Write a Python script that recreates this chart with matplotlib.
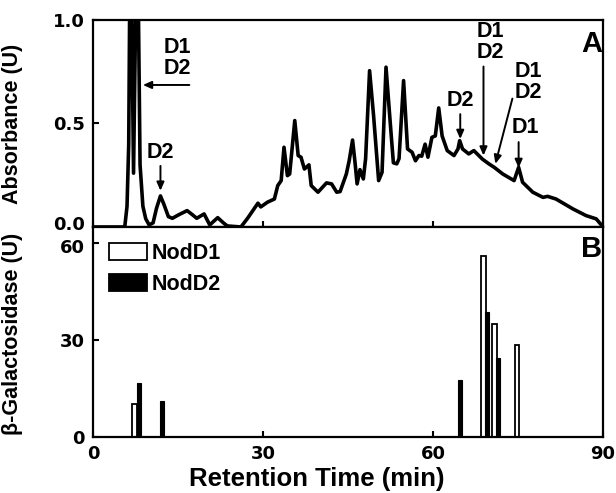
import matplotlib
matplotlib.use("Agg")
import matplotlib.pyplot as plt
from matplotlib.patches import Patch
from matplotlib.transforms import ScaledTranslation

# ---------------- data ----------------
time_min = [0, 5.6, 6.0, 6.3, 6.6, 7.15, 7.8, 8.3, 8.8, 9.3, 9.9, 10.6, 11.2, 11.9,
            12.5, 13.3, 14.0, 15.2, 16.6, 17.5, 18.3, 19.6, 20.6, 22.0, 23.0, 23.7,
            26.1, 27.3, 29.1, 29.6, 30.8, 32.0, 32.6, 33.2, 33.7, 34.3, 34.7, 35.6,
            36.2, 36.7, 37.3, 38.1, 38.5, 39.7, 41.2, 42.1, 43.0, 43.6, 44.7, 45.2,
            45.8, 46.2, 46.6, 47.1, 47.7, 48.1, 48.8, 49.5, 50.4, 51.0, 51.7, 52.4,
            53.0, 53.6, 54.0, 54.8, 55.5, 56.3, 56.9, 57.5, 58.0, 58.6, 59.1, 59.8,
            60.4, 61.0, 61.6, 62.5, 63.7, 64.4, 64.7, 65.2, 66.3, 67.2, 68.7, 69.9,
            70.8, 72.3, 74.3, 75.1, 75.8, 77.6, 79.4, 80.2, 81.7, 84.7, 87.0, 88.8, 90.0]
absorbance = [0.0, 0.0, 0.1, 0.4, 1.6, 0.26, 1.6, 0.3, 0.1, 0.04, 0.01, 0.02, 0.09, 0.15,
              0.11, 0.05, 0.042, 0.06, 0.079, 0.06, 0.042, 0.063, 0.01, 0.045, 0.02, 0.005,
              0.0, 0.043, 0.115, 0.097, 0.12, 0.135, 0.2, 0.224, 0.385, 0.248, 0.256, 0.514,
              0.345, 0.337, 0.28, 0.30, 0.2, 0.168, 0.213, 0.208, 0.168, 0.171, 0.256, 0.32,
              0.42, 0.32, 0.208, 0.277, 0.232, 0.33, 0.755, 0.54, 0.224, 0.264, 0.772, 0.52,
              0.31, 0.305, 0.33, 0.707, 0.377, 0.361, 0.32, 0.345, 0.342, 0.40, 0.337, 0.433,
              0.44, 0.575, 0.44, 0.369, 0.345, 0.377, 0.417, 0.377, 0.353, 0.369, 0.328, 0.304,
              0.288, 0.256, 0.224, 0.288, 0.216, 0.168, 0.143, 0.148, 0.135, 0.087, 0.055, 0.039, 0.0]

nodd1_time = [7.3, 68.9, 70.8, 74.8]
nodd1_value = [10, 56, 35, 28.5]
nodd2_time = [8.1, 12.1, 64.8, 69.6, 71.5]
nodd2_value = [16.5, 11, 17.5, 38.5, 24.5]

x_ticks = [0, 30, 60, 90]
abs_ticks = [0.0, 0.5, 1.0]
gal_ticks = [0, 30, 60]

# ---------------- figure ----------------
fig = plt.figure(figsize=(6.16, 4.93), dpi=100)
axA = fig.add_axes([0.151, 0.5396, 0.828, 0.4199])
axB = fig.add_axes([0.151, 0.1142, 0.828, 0.4254])

LAB = dict(family="Liberation Sans", weight="bold")
TICK = dict(family="DejaVu Sans", weight="bold", size=13)

for ax in (axA, axB):
    for s in ax.spines.values():
        s.set_linewidth(1.6)
    ax.set_xlim(0, 90)
    ax.tick_params(direction="in", length=4, width=1.5, top=False, right=False, pad=6)

# Panel A
axA.plot(time_min, absorbance, color="black", lw=2.6, solid_joinstyle="round")
axA.set_ylim(0, 1.0)
axA.set_xticks(x_ticks)
axA.set_xticklabels([])
axA.set_yticks(abs_ticks)
axA.set_yticklabels([f"{v:.1f}" for v in abs_ticks], **TICK)
axA.set_ylabel("Absorbance (U)", size=15.5, **LAB)
axA.yaxis.set_label_coords(-0.137, 0.5)
axA.text(88.0, 0.885, "A", ha="center", va="center", size=21, **LAB)

arrow = dict(arrowstyle="-|>,head_length=0.5,head_width=0.22", color="black", lw=1.4,
             shrinkA=0, shrinkB=0)
ann = dict(ha="center", va="bottom", size=15.5, linespacing=1.0, **LAB)

# D1/D2 with horizontal arrow at the big peaks
axA.text(14.9, 0.715, "D1\nD2", **ann)
axA.annotate("", xy=(8.8, 0.686), xytext=(17.0, 0.686), arrowprops=arrow)
# D2 at 12 min
axA.annotate("", xy=(11.9, 0.175), xytext=(11.9, 0.295), arrowprops=arrow)
axA.text(11.9, 0.31, "D2", **ann)
# D2 at 64.8
axA.annotate("", xy=(64.8, 0.425), xytext=(64.8, 0.545), arrowprops=arrow)
axA.text(64.8, 0.56, "D2", **ann)
# D1/D2 at 68.9
axA.annotate("", xy=(68.9, 0.345), xytext=(68.9, 0.775), arrowprops=arrow)
axA.text(70.2, 0.79, "D1\nD2", **ann)
# D1/D2 at 71
axA.annotate("", xy=(71.0, 0.305), xytext=(74.0, 0.62), arrowprops=arrow)
axA.text(76.8, 0.60, "D1\nD2", **ann)
# D1 at 75
axA.annotate("", xy=(75.1, 0.285), xytext=(75.1, 0.41), arrowprops=arrow)
axA.text(76.3, 0.43, "D1", **ann)

# Panel B
axB.bar(nodd1_time, nodd1_value, width=0.85, facecolor="white", edgecolor="black",
        linewidth=1.3, zorder=2)
axB.bar(nodd2_time, nodd2_value, width=0.7, facecolor="black", edgecolor="black",
        linewidth=0.8, zorder=3)
axB.set_ylim(0, 65)
axB.set_xticks(x_ticks)
axB.set_xticklabels([str(v) for v in x_ticks], **TICK)
axB.set_yticks(gal_ticks)
axB.set_yticklabels([str(v) for v in gal_ticks], **TICK)
axB.set_ylabel("β-Galactosidase (U)", size=15.5, **LAB)
axB.yaxis.set_label_coords(-0.137, 0.49)
axB.text(88.0, 58.3, "B", ha="center", va="center", size=21, **LAB)

# nudge the touching "0.0" / "60" labels apart slightly
lbl00 = axA.get_yticklabels()[0]
lbl00.set_transform(lbl00.get_transform() + ScaledTranslation(0, 3 / 72, fig.dpi_scale_trans))
lbl60 = axB.get_yticklabels()[-1]
lbl60.set_transform(lbl60.get_transform() + ScaledTranslation(0, -2 / 72, fig.dpi_scale_trans))

handles = [Patch(facecolor="white", edgecolor="black", linewidth=1.3, label="NodD1"),
           Patch(facecolor="black", edgecolor="black", linewidth=1.3, label="NodD2")]
leg = axB.legend(handles=handles, loc="upper left", bbox_to_anchor=(0.0, 1.0),
                 frameon=False, borderaxespad=0.45, borderpad=0.3, handlelength=1.75,
                 handleheight=0.8, handletextpad=0.2, labelspacing=0.45,
                 prop=dict(family="Liberation Sans", weight="bold", size=15.5))

fig.text(317 / 616, 1 - 479 / 493, "Retention Time (min)", ha="center", va="center",
         size=18.5, **LAB)

fig.savefig("out.png", dpi=100)
